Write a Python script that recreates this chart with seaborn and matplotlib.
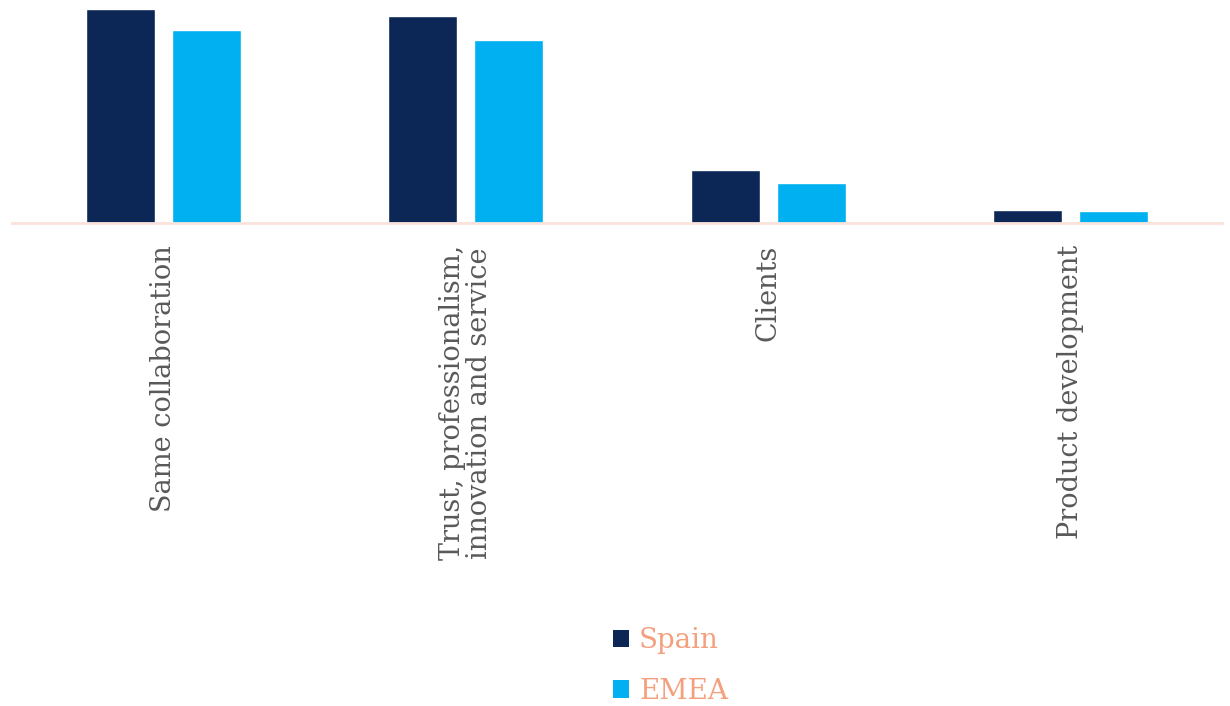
import pandas as pd
import matplotlib.pyplot as plt
import seaborn as sns
from matplotlib.patches import Patch

# data (relative bar heights)
categories = ['Same collaboration', 'Trust, professionalism,\ninnovation and service',
              'Clients', 'Product development']
spain = [0.470, 0.455, 0.117, 0.029]
emea = [0.424, 0.402, 0.088, 0.026]
series = ['Spain', 'EMEA']
colors = {'Spain': '#0C2756', 'EMEA': '#00B0F0'}

df = pd.DataFrame({
    'category': categories * 2,
    'value': spain + emea,
    'series': ['Spain'] * len(spain) + ['EMEA'] * len(emea),
})

sns.set_style('white')
plt.rcParams['font.family'] = ['DejaVu Serif']

fig = plt.figure(figsize=(12.3, 7.06), dpi=100)
ax = fig.add_axes([12 / 1230, 1 - 223 / 706, 1210 / 1230, 223 / 706])

sns.barplot(data=df, x='category', y='value', hue='series', palette=colors,
            hue_order=series, width=0.57, gap=0.2, saturation=1, ax=ax,
            legend=False)

ax.set_xlim(-0.5, 3.5)
ax.set_ylim(0, 0.49)
ax.set_xlabel('')
ax.set_ylabel('')
ax.set_yticks([])
for s in ['top', 'right', 'left']:
    ax.spines[s].set_visible(False)
ax.spines['bottom'].set_color('#FBE3DC')
ax.spines['bottom'].set_linewidth(2)

ax.tick_params(axis='x', length=0, pad=16, labelsize=19.5, colors='#595959')
for lab in ax.get_xticklabels():
    lab.set_rotation(90)
    lab.set_ha('center')
    lab.set_va('top')
    lab.set_multialignment('center')
    lab.set_linespacing(1.0)

handles = [Patch(facecolor=colors[s], edgecolor='none') for s in series]
leg = fig.legend(handles, series, loc='center', bbox_to_anchor=(0.545, 1 - 666 / 706),
                 frameon=False, fontsize=20, handlelength=0.6, handleheight=0.6,
                 handletextpad=0.35, labelspacing=0.85, borderaxespad=0)
for t in leg.get_texts():
    t.set_color('#F4A07F')

fig.savefig('out.png', dpi=100)
